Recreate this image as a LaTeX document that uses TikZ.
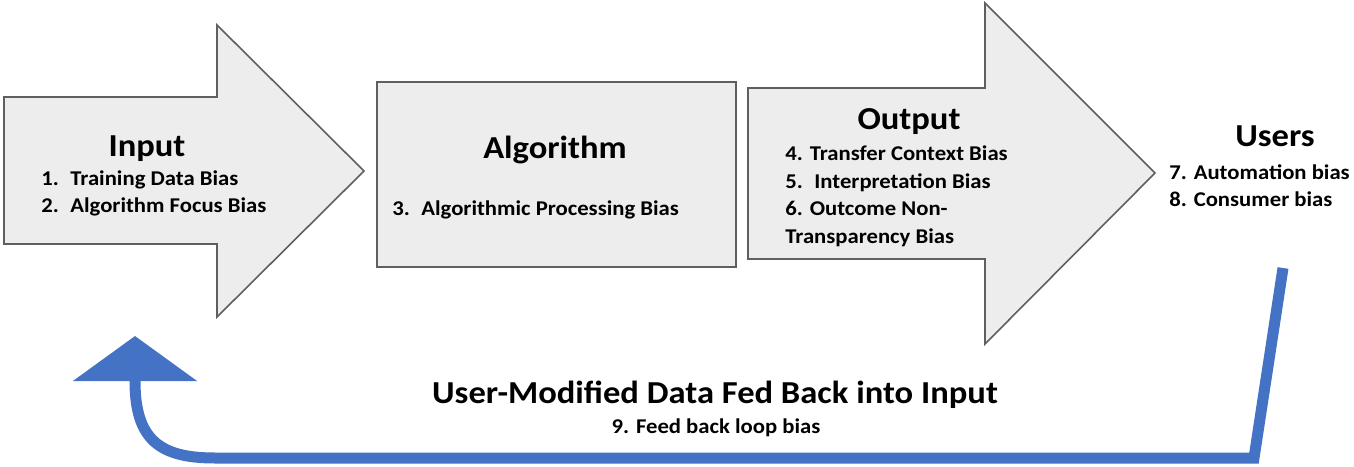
\documentclass[tikz,border=0pt]{standalone}
\usepackage{fontspec}
\setmainfont{Carlito}[FakeStretch=1.08]
\usetikzlibrary{arrows.meta}
\definecolor{stagefill}{HTML}{EDEDED}
\definecolor{stageline}{HTML}{5F5F5F}
\definecolor{loopblue}{HTML}{4472C4}
\newcommand{\itemno}[2][14.5pt]{\makebox[#1][l]{#2}}

\begin{document}
\begin{tikzpicture}[x=0.5pt,y=-0.5pt,
    stage/.style={draw=stageline, fill=stagefill, line width=0.8pt, line join=miter},
    heading/.style={font=\bfseries\fontsize{16}{18}\selectfont, anchor=base, inner sep=0pt},
    entry/.style={font=\bfseries\fontsize{10.5}{12}\selectfont, anchor=base west, inner sep=0pt},
    feedback/.style={draw=loopblue, line width=5.5pt, line join=miter,
      -{Triangle[width=61pt,length=22.5pt]}}]
    \useasboundingbox (0,0) rectangle (1354,466);

    % stages
    \draw[stage] (4,97) -- (217,97) -- (217,25) -- (364,171)
      -- (217,317) -- (217,244) -- (4,244) -- cycle;
    \draw[stage] (377,82) rectangle (736,267);
    \draw[stage] (748,88) -- (985,88) -- (985,3) -- (1155,173)
      -- (985,344) -- (985,259) -- (748,259) -- cycle;

    % input
    \node[heading] (input) at (147,156) {Input};
    \node[entry] (bias1) at (41,185) {\itemno{1.}Training Data Bias};
    \node[entry] (bias2) at (41,212) {\itemno{2.}Algorithm Focus Bias};

    % algorithm
    \node[heading] (algorithm) at (555,158) {Algorithm};
    \node[entry] (bias3) at (392,215) {\itemno{3.}Algorithmic Processing Bias};

    % output
    \node[heading] (output) at (909,129) {Output};
    \node[entry] (bias4) at (785,160) {4. Transfer Context Bias};
    \node[entry] (bias5) at (785,188) {\itemno{5.}Interpretation Bias};
    \node[entry] (bias6) at (785,215) {6. Outcome Non-};
    \node[entry] (bias6b) at (785,243) {Transparency Bias};

    % users
    \node[heading] (users) at (1275,146) {Users};
    \node[entry] (bias7) at (1169,179) {7. Automation bias};
    \node[entry] (bias8) at (1169,206) {8. Consumer bias};

    % feedback loop
    \coordinate (fb start) at (1283,268);
    \coordinate (fb end) at (135,336);
    \draw[feedback] (fb start) -- (1254,458) -- (215,458)
      .. controls (160,458) and (135,440) .. (135,381) -- (fb end);
    \node[heading] (loop) at (715,403) {User-Modified Data Fed Back into Input};
    \node[heading, font=\bfseries\fontsize{10.5}{12}\selectfont] (bias9) at (716,433)
      {9. Feed back loop bias};
  \end{tikzpicture}
\end{document}
